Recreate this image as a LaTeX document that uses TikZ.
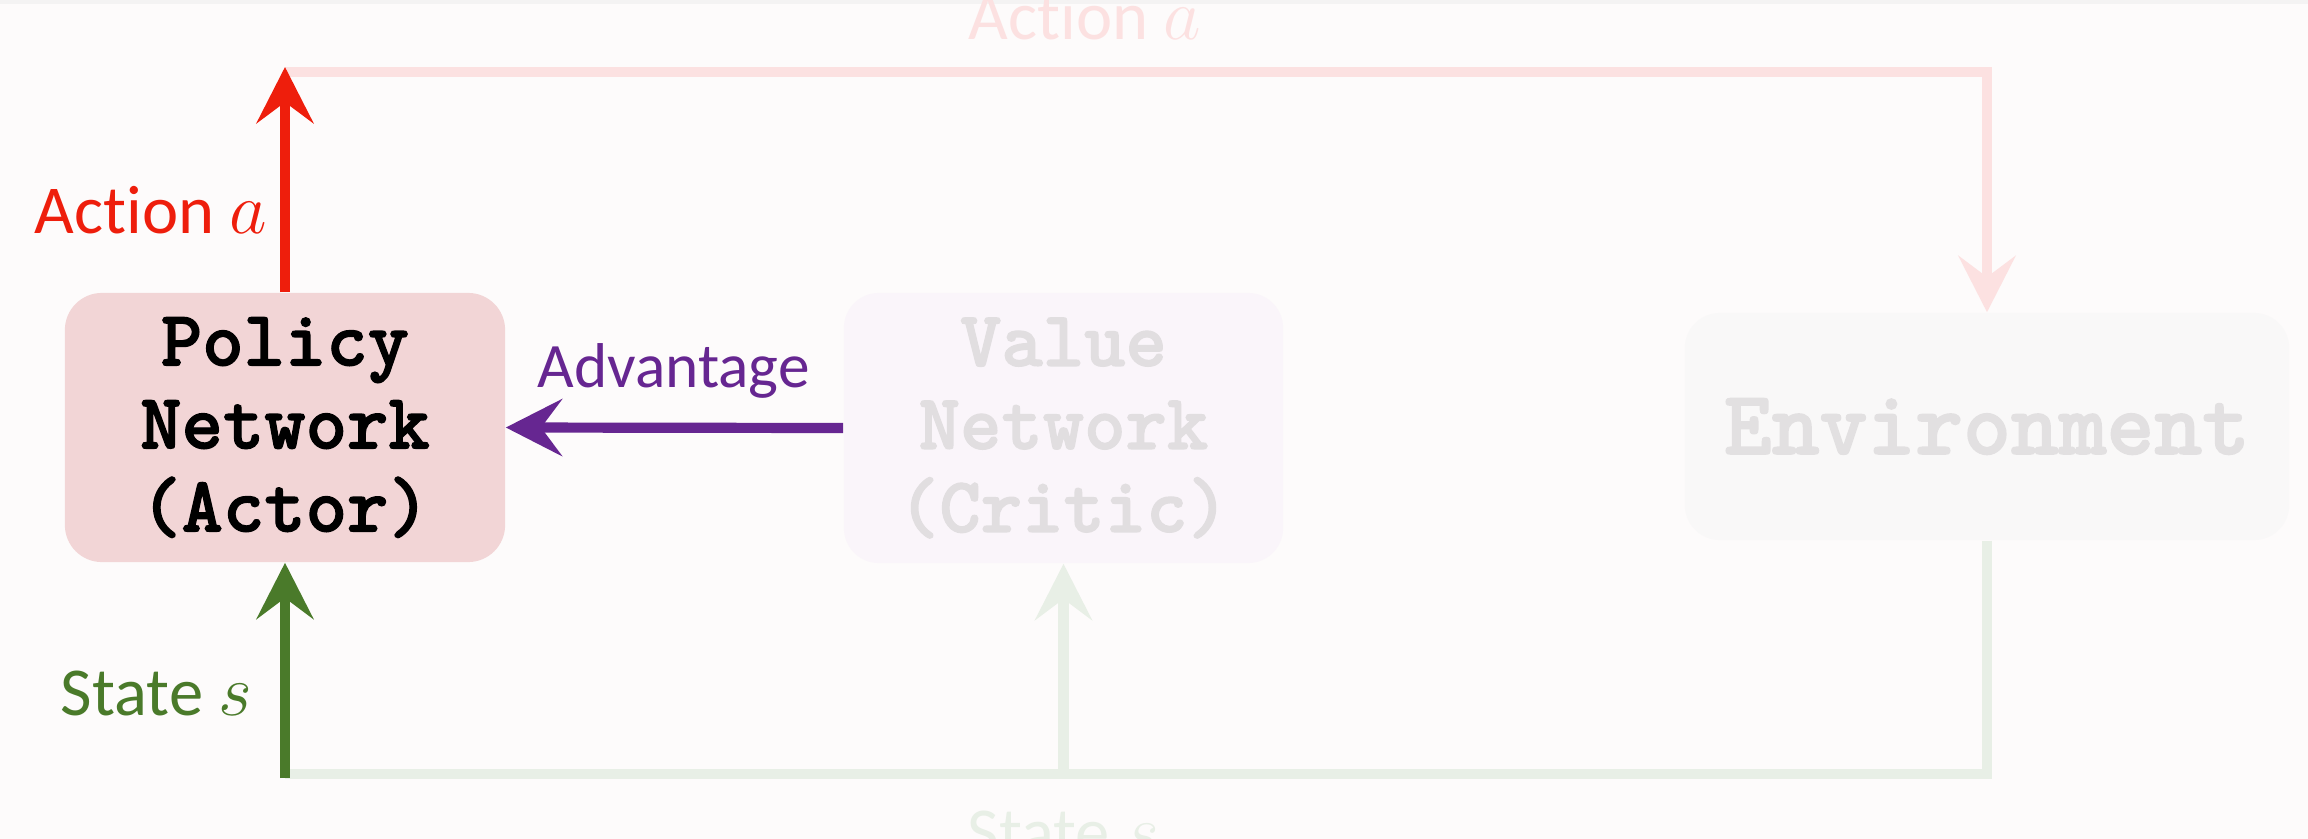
\documentclass[tikz,border=0pt]{standalone}
\usepackage{fontspec}
\setmainfont{Carlito}[Ligatures={NoCommon}]
\newfontfamily\netfont{lmmonolt10-bold.otf}[FakeBold=1.6]
\usetikzlibrary{arrows.meta}

\definecolor{bgc}{RGB}{253,251,251}
\definecolor{stripc}{RGB}{244,243,243}
\definecolor{actred}{RGB}{238,30,12}
\definecolor{stategreen}{RGB}{74,122,42}
\definecolor{advpurple}{RGB}{102,38,145}
\definecolor{palepink}{RGB}{252,225,225}
\definecolor{palegreen}{RGB}{232,239,230}
\definecolor{policyfill}{RGB}{242,213,214}
\definecolor{valuefill}{RGB}{250,245,250}
\definecolor{valuetext}{RGB}{225,222,224}
\definecolor{envfill}{RGB}{249,248,248}
\definecolor{envtext}{RGB}{226,224,225}

\tikzset{
  netbox/.style={rectangle, rounded corners=0.35cm, inner sep=0pt, align=center,
    font=\netfont\fontsize{22.4}{23.6}\selectfont},
  tiphead/.style={-{Stealth[length=16pt, width=16.2pt, inset=6pt]}},
  link/.style={line width=2.9pt},
  lbl/.style={inner sep=0pt, font=\fontsize{19.5}{22}\selectfont},
  advlbl/.style={inner sep=0pt, font=\fontsize{18}{20}\selectfont}
}

\begin{document}
\begin{tikzpicture}[x=0.01cm, y=-0.01cm]
  % canvas
  \fill[bgc] (0,0) rectangle (2308,839);
  \fill[stripc] (0,0) rectangle (2308,4);
  \useasboundingbox (0,0) rectangle (2308,839);

  % the three blocks
  \node[netbox, fill=policyfill, text=black, minimum width=4.40cm, minimum height=2.69cm,
        rounded corners=0.37cm] (policy) at (285,427.5) {Policy\\Network\\(Actor)};
  \node[netbox, fill=valuefill, text=valuetext, minimum width=4.39cm, minimum height=2.70cm]
        (value) at (1063.5,428) {Value\\Network\\(Critic)};
  \node[netbox, fill=envfill, text=envtext, minimum width=6.04cm, minimum height=2.27cm,
        font=\netfont\fontsize{25.9}{28}\selectfont] (env) at (1987,426.5) {Environment};

  % routing levels
  \coordinate (topline) at (0,72);
  \coordinate (redtip) at (0,67);
  \coordinate (botline) at (0,774);
  \coordinate (greenfoot) at (0,778);
  \coordinate (topL) at (policy.north |- topline);
  \coordinate (topR) at (env.north |- topline);
  \coordinate (botL) at (policy.south |- botline);
  \coordinate (botR) at (env.south |- botline);
  \coordinate (botV) at (value.south |- botline);
  \coordinate (atip) at (policy.north |- redtip);
  \coordinate (sfoot) at (policy.south |- greenfoot);

  % faded loop through the environment
  \draw[link, palepink, tiphead] (topL) -- (topR) -- (env.north);
  \draw[link, palegreen] (env.south) -- (botR) -- (botL);
  \draw[link, palegreen, tiphead] (botV) -- (value.south);

  % active signals
  \draw[link, actred, tiphead] (policy.north) -- (atip);
  \draw[link, stategreen, tiphead] (sfoot) -- (policy.south);
  \draw[link, advpurple, tiphead] (value.west) -- (policy.east);

  % labels
  \node[lbl, text=actred, anchor=base east] (lact) at (268,233) {Action $a$};
  \node[lbl, text=stategreen, anchor=base east] (lstate) at (253,715) {State $s$};
  \node[advlbl, text=advpurple, anchor=base] (ladv) at (673.5,387) {Advantage};
  \node[lbl, text=palepink, anchor=base west] (lacttop) at (968,39) {Action $a$};
  \node[lbl, text=palegreen, anchor=base west] (lstatebot) at (967,855) {State $s$};
\end{tikzpicture}
\end{document}
